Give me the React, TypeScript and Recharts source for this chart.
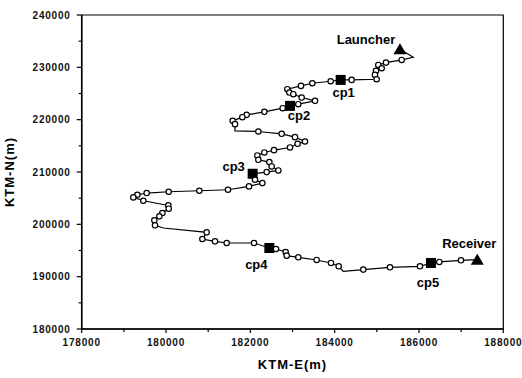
import React from 'react';
import { ScatterChart, Scatter, XAxis, YAxis, ReferenceArea } from 'recharts';

// Route from Launcher to Receiver (KTM coordinates, metres)
const routeE = [
  185549, 185865, 185589, 185217, 185035, 185115, 184980, 184956, 184996, 184403,
  184142, 183905, 183470, 183201, 182877, 182925, 183020, 183217, 183534, 183138,
  182941, 182767, 182332, 181913, 181810, 181581, 181636, 181636, 182190, 182743,
  183059, 183296, 183122, 182941, 182561, 182332, 182166, 182190, 182451, 182506,
  182664, 182387, 182055, 182111, 182285, 181968, 181470, 180790, 180063, 179541,
  179320, 179225, 179462, 180055, 180063, 179913, 179842, 179723, 179739, 179937,
  180964, 180862, 181162, 181439, 182087, 182451, 182609, 182838, 182862, 183138,
  183573, 183913, 184095, 184205, 184680, 185312, 186023, 186284, 186482, 186996,
  187383,
];
const routeN = [
  233449, 231923, 231414, 230905, 230460, 229824, 229315, 228552, 227725, 227598,
  227598, 227344, 226962, 226453, 225817, 225181, 224863, 224227, 223591, 222955,
  222637, 222192, 221492, 220920, 220475, 219775, 219139, 217867, 217740, 217295,
  216659, 215832, 215387, 214687, 214178, 213733, 213161, 212334, 211889, 211062,
  210299, 209981, 209663, 208518, 207882, 207246, 206610, 206419, 206228, 205974,
  205656, 205147, 204511, 203621, 202985, 202158, 201522, 200759, 199805, 199296,
  198469, 197197, 196752, 196434, 196434, 195480, 195289, 194717, 194017, 193699,
  193190, 192618, 191982, 191028, 191346, 191791, 191982, 192618, 192809, 193127,
  193254,
];
// '' = bend without marker, 'o' = survey point, otherwise a named site
const routeKind = [
  'Launcher', '', 'o', 'o', 'o', 'o', 'o', 'o', 'o', 'o',
  'cp1', 'o', 'o', 'o', 'o', 'o', 'o', 'o', 'o', 'o',
  'cp2', 'o', 'o', 'o', 'o', 'o', 'o', '', 'o', 'o',
  'o', 'o', 'o', 'o', 'o', 'o', 'o', 'o', 'o', 'o',
  'o', 'o', 'cp3', 'o', 'o', 'o', 'o', 'o', 'o', 'o',
  'o', 'o', 'o', 'o', 'o', 'o', 'o', 'o', 'o', '',
  'o', 'o', 'o', 'o', 'o', 'cp4', 'o', 'o', 'o', 'o',
  'o', 'o', 'o', '', 'o', 'o', 'o', 'cp5', 'o', 'o',
  'Receiver',
];

const xTicks = [178000, 179000, 180000, 181000, 182000, 183000, 184000, 185000, 186000, 187000, 188000];
const yTicks = [180000, 185000, 190000, 195000, 200000, 205000, 210000, 215000, 220000, 225000, 230000, 235000, 240000];
const xLabeled = [178000, 180000, 182000, 184000, 186000, 188000];
const yLabeled = [180000, 190000, 200000, 210000, 220000, 230000, 240000];

// label placement (pixels relative to the marker)
const labelOffset: Record<string, [number, number]> = {
  Launcher: [-34, -10],
  Receiver: [-8, -16],
  cp1: [3, 13],
  cp2: [9, 10],
  cp3: [-19, -7],
  cp4: [-13, 17],
  cp5: [-3, 20],
};

const route = routeE.map((e, i) => ({ e, n: routeN[i], k: routeKind[i] }));

const FONT = '"Liberation Sans", Arial, sans-serif';

const XTick = (props: any) => {
  const { x, y, payload } = props;
  const v = payload.value;
  const major = xLabeled.includes(v);
  return (
    <g>
      <line x1={x} x2={x} y1={y} y2={y + (major ? 4 : 3)} stroke="#000" strokeWidth={1.2} />
      {major && (
        <text x={x} y={y + 17} textAnchor="middle" fontFamily={FONT} fontSize={10} fontWeight="bold" letterSpacing={0.8} fill="#111">
          {v}
        </text>
      )}
    </g>
  );
};

const YTick = (props: any) => {
  const { x, y, payload } = props;
  const v = payload.value;
  const major = yLabeled.includes(v);
  return (
    <g>
      <line x1={x - (major ? 5 : 3)} x2={x} y1={y} y2={y} stroke="#000" strokeWidth={1.2} />
      {major && (
        <text x={x - 11} y={y + 3.5} textAnchor="end" fontFamily={FONT} fontSize={10} fontWeight="bold" letterSpacing={0.8} fill="#111">
          {v}
        </text>
      )}
    </g>
  );
};

const Marker = (props: any) => {
  const { cx, cy, payload } = props;
  const k = payload.k;
  if (k === '') return <g />;
  if (k === 'o') {
    return <circle cx={cx} cy={cy} r={2.7} fill="#fff" stroke="#000" strokeWidth={1.2} />;
  }
  const off = labelOffset[k] || [0, 0];
  const isTri = k === 'Launcher' || k === 'Receiver';
  return (
    <g>
      {isTri ? (
        <polygon points={`${cx},${cy - 6} ${cx - 6.5},${cy + 5} ${cx + 6.5},${cy + 5}`} fill="#000" />
      ) : (
        <rect x={cx - 5} y={cy - 5} width={10} height={10} fill="#000" />
      )}
      <text x={cx + off[0]} y={cy + off[1] + 4.5} textAnchor="middle" fontFamily={FONT} fontSize={13} fontWeight="bold" fill="#000">
        {k}
      </text>
    </g>
  );
};

export default function App() {
  return (
    <div style={{ position: 'absolute', left: 0, top: 0, width: 522, height: 378, background: '#fff' }}>
      <ScatterChart width={522} height={378} margin={{ top: 15, right: 18.7, bottom: 0, left: 0 }}>
        <XAxis
          type="number"
          dataKey="e"
          domain={[178000, 188000]}
          ticks={xTicks}
          interval={0}
          tick={<XTick />}
          tickLine={false}
          tickSize={0}
          tickMargin={0}
          height={49}
          axisLine={{ stroke: '#000', strokeWidth: 1.5 }}
          allowDataOverflow
        />
        <YAxis
          type="number"
          dataKey="n"
          domain={[180000, 240000]}
          ticks={yTicks}
          interval={0}
          tick={<YTick />}
          tickLine={false}
          tickSize={0}
          tickMargin={0}
          width={81.7}
          axisLine={{ stroke: '#000', strokeWidth: 1.5 }}
          allowDataOverflow
        />
        <ReferenceArea x1={178000} x2={188000} y1={180000} y2={240000} fill="none" stroke="#000" strokeWidth={1.2} />
        <Scatter
          data={route}
          line={{ stroke: '#000', strokeWidth: 1.2 }}
          lineType="joint"
          shape={<Marker />}
          isAnimationActive={false}
        />
      </ScatterChart>
      <svg width={522} height={378} style={{ position: 'absolute', left: 0, top: 0, pointerEvents: 'none' }}>
        <text x={292.5} y={369} textAnchor="middle" fontFamily={FONT} fontSize={13} fontWeight="bold" letterSpacing={1} fill="#000">
          KTM-E(m)
        </text>
        <text x={14} y={172} textAnchor="middle" fontFamily={FONT} fontSize={13} fontWeight="bold" letterSpacing={1} fill="#000" transform="rotate(-90 14 172)">
          KTM-N(m)
        </text>
      </svg>
    </div>
  );
}
